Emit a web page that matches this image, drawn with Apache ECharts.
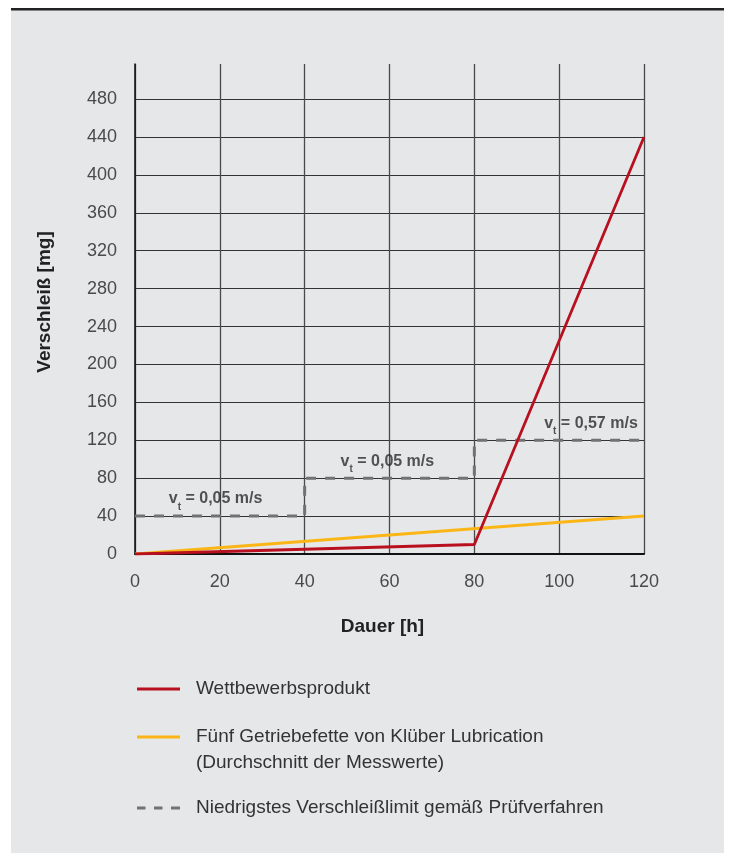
<!DOCTYPE html>
<html>
<head>
<meta charset="utf-8">
<script src="https://cdn.jsdelivr.net/npm/echarts@6/dist/echarts.min.js"></script>
<style>
  html, body { margin: 0; padding: 0; background: #ffffff; }
  #chart { width: 731px; height: 853px; }
</style>
</head>
<body>
<div id="chart"></div>
<script>
// ---- data ----
const xTicks = [0, 20, 40, 60, 80, 100, 120];
const yTicks = [0, 40, 80, 120, 160, 200, 240, 280, 320, 360, 400, 440, 480];

const competitorX = [0, 80, 120];
const competitorY = [0, 10, 440];

const kluberX = [0, 120];
const kluberY = [0, 40];

const limitX = [0, 40, 40, 80, 80, 120];
const limitY = [40, 40, 80, 80, 120, 120];

const speedX = [19, 59.5, 107.5];
const speedY = [40, 80, 120];
const speedText = ['0,05 m/s', '0,05 m/s', '0,57 m/s'];

const seriesNames = [
  'Wettbewerbsprodukt',
  'Fünf Getriebefette von Klüber Lubrication\n(Durchschnitt der Messwerte)',
  'Niedrigstes Verschleißlimit gemäß Prüfverfahren'
];

function pairs(xs, ys) { return xs.map((x, i) => [x, ys[i]]); }

const FONT = '"Liberation Sans", Arial, Helvetica, sans-serif';
const yMax = 517;

const ySplitColors = yTicks.map(() => '#333333');
ySplitColors.push('rgba(0,0,0,0)');

const chart = echarts.init(document.getElementById('chart'), null, { renderer: 'canvas' });

const legendText = { fontSize: 19, color: '#333333', lineHeight: 22, padding: [0, 0, 0, 11], fontFamily: FONT };

const option = {
  backgroundColor: '#ffffff',
  animation: false,
  textStyle: { fontFamily: FONT },
  graphic: [
    { type: 'rect', z: -100, shape: { x: 11, y: 10, width: 713, height: 843 }, style: { fill: '#e6e7e9' } },
    { type: 'rect', z: -99, shape: { x: 11, y: 8, width: 713, height: 2.5 }, style: { fill: '#222222' } }
  ],
  grid: { left: 135, right: 87, top: 64, bottom: 299, containLabel: false },
  xAxis: {
    type: 'value',
    min: 0, max: 120, interval: 20,
    axisLine: { show: true, lineStyle: { color: '#111111', width: 2 } },
    axisTick: { show: false },
    splitLine: { show: true, lineStyle: { color: '#4a4a4a', width: 1.3 } },
    axisLabel: { fontSize: 18, color: '#4a4a4a', margin: 19, fontFamily: FONT },
    name: 'Dauer [h]',
    nameLocation: 'middle',
    nameGap: 63,
    nameTextStyle: { fontSize: 19, fontWeight: 'bold', color: '#222222', fontFamily: FONT, padding: [0, 14, 0, 0] }
  },
  yAxis: {
    type: 'value',
    min: 0, max: yMax, interval: 40,
    axisLine: { show: true, lineStyle: { color: '#111111', width: 1.5 } },
    axisTick: { show: false },
    splitLine: { show: true, lineStyle: { color: ySplitColors, width: 1 } },
    axisLabel: {
      fontSize: 18, color: '#4a4a4a', margin: 18, fontFamily: FONT,
      formatter: v => (yTicks.indexOf(v) >= 0 ? String(v) : '')
    },
    name: 'Verschleiß [mg]',
    nameLocation: 'middle',
    nameGap: 81,
    nameTextStyle: { fontSize: 19, fontWeight: 'bold', color: '#222222', fontFamily: FONT, padding: [0, 0, 0, 14] }
  },
  legend: [
    {
      left: 137, top: 678, orient: 'vertical', padding: 0,
      itemWidth: 43, itemHeight: 3,
      icon: 'rect',
      itemStyle: { borderWidth: 0 },
      data: [seriesNames[0]],
      textStyle: legendText
    },
    {
      left: 137, top: 698, orient: 'vertical', padding: 0,
      itemWidth: 43, itemHeight: 3,
      icon: 'rect',
      itemStyle: { borderWidth: 0 },
      data: [seriesNames[1]],
      formatter: name => '\n' + name,
      textStyle: Object.assign({}, legendText, { lineHeight: 26 })
    },
    {
      left: 137, top: 797, orient: 'vertical', padding: 0,
      itemWidth: 43, itemHeight: 3,
      icon: 'path://M0,0h8.5v3h-8.5z M17,0h8.5v3h-8.5z M34,0h9v3h-9z',
      itemStyle: { borderWidth: 0 },
      data: [seriesNames[2]],
      textStyle: legendText
    }
  ],
  series: [
    {
      name: seriesNames[2],
      type: 'line',
      data: pairs(limitX, limitY),
      symbol: 'none',
      z: 2,
      lineStyle: { color: '#727272', width: 3, type: [10, 9] },
      itemStyle: { color: '#727272' }
    },
    {
      name: seriesNames[1],
      type: 'line',
      data: pairs(kluberX, kluberY),
      symbol: 'none',
      z: 3,
      lineStyle: { color: '#fbb616', width: 3 },
      itemStyle: { color: '#fbb616' }
    },
    {
      name: seriesNames[0],
      type: 'line',
      data: pairs(competitorX, competitorY),
      symbol: 'none',
      z: 4,
      lineStyle: { color: '#b8101f', width: 2.8 },
      itemStyle: { color: '#b8101f' }
    },
    {
      name: 'speedLabels',
      type: 'scatter',
      silent: true,
      symbolSize: 0,
      z: 5,
      data: speedX.map((x, i) => ({ value: [x, speedY[i]], name: speedText[i] })),
      label: {
        show: true,
        position: 'top',
        distance: 4,
        formatter: p => '{v|v}{t|t}{r| = ' + p.name + '}',
        rich: {
          v: { fontSize: 16, fontWeight: 'bold', color: '#2a2a2a', lineHeight: 26, fontFamily: FONT },
          t: { fontSize: 10, fontWeight: 'bold', color: '#2a2a2a', lineHeight: 6, verticalAlign: 'bottom', fontFamily: FONT },
          r: { fontSize: 16, fontWeight: 'bold', color: '#2a2a2a', lineHeight: 26, fontFamily: FONT }
        }
      }
    }
  ]
};

chart.setOption(option);
</script>
</body>
</html>
